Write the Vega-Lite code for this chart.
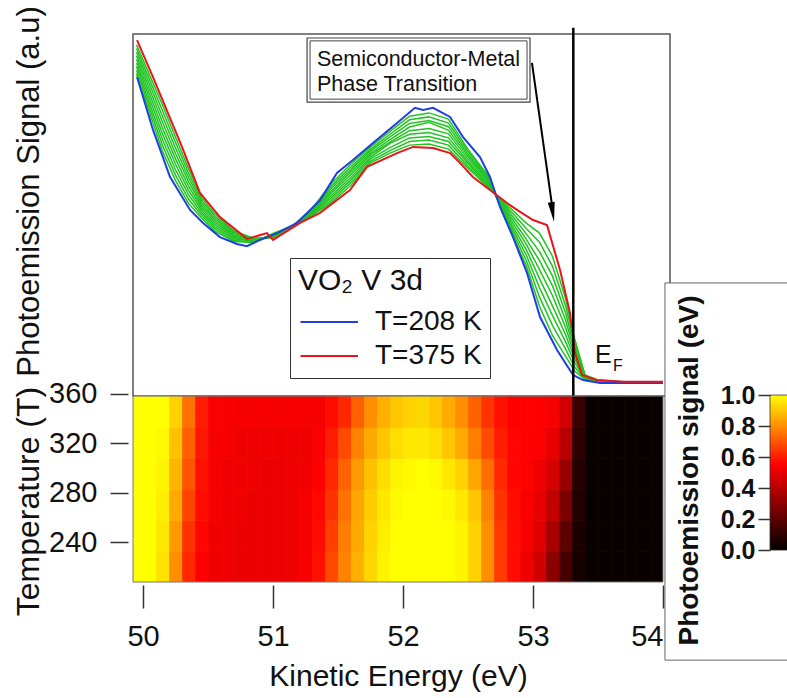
{
  "$schema": "https://vega.github.io/schema/vega-lite/v6.json",
  "width": 530,
  "height": 548,
  "autosize": "none",
  "padding": {"left": 133, "top": 34, "right": 124, "bottom": 116},
  "background": "white",
  "config": {
    "font": "Liberation Sans",
    "view": {"stroke": null},
    "axis": {"grid": false, "domain": false, "tickColor": "#333", "labelColor": "#111", "titleColor": "#111", "titleFontWeight": "normal"}
  },
  "datasets": {
    "green": [
      {"g":1,"E":49.95,"S":89},{"g":1,"E":50.05,"S":78.3},{"g":1,"E":50.15,"S":67.6},{"g":1,"E":50.25,"S":59.5},{"g":1,"E":50.35,"S":53.2},{"g":1,"E":50.45,"S":49.2},{"g":1,"E":50.55,"S":45.6},{"g":1,"E":50.7,"S":42.7},{"g":1,"E":50.85,"S":42.4},{"g":1,"E":51.0,"S":44.9},{"g":1,"E":51.15,"S":47.0},{"g":1,"E":51.3,"S":51.8},{"g":1,"E":51.45,"S":58.7},{"g":1,"E":51.6,"S":64.1},{"g":1,"E":51.75,"S":68.8},{"g":1,"E":51.9,"S":73.1},{"g":1,"E":52.05,"S":77.3},{"g":1,"E":52.2,"S":78.2},{"g":1,"E":52.35,"S":76.5},{"g":1,"E":52.5,"S":68.1},{"g":1,"E":52.65,"S":61.1},{"g":1,"E":52.75,"S":52.1},{"g":1,"E":52.85,"S":43.8},{"g":1,"E":52.95,"S":35.8},{"g":1,"E":53.05,"S":24.8},{"g":1,"E":53.15,"S":16.7},{"g":1,"E":53.25,"S":11},{"g":1,"E":53.32,"S":6.9},{"g":1,"E":53.4,"S":4.5},{"g":1,"E":53.5,"S":3.8},{"g":1,"E":53.7,"S":3.6},{"g":1,"E":54.0,"S":3.6},
      {"g":2,"E":49.95,"S":90},{"g":2,"E":50.05,"S":79.6},{"g":2,"E":50.15,"S":69.2},{"g":2,"E":50.25,"S":61},{"g":2,"E":50.35,"S":54.4},{"g":2,"E":50.45,"S":49.9},{"g":2,"E":50.55,"S":46.2},{"g":2,"E":50.7,"S":43.0},{"g":2,"E":50.85,"S":42.5},{"g":2,"E":51.0,"S":44.7},{"g":2,"E":51.15,"S":46.9},{"g":2,"E":51.3,"S":51.5},{"g":2,"E":51.45,"S":58.0},{"g":2,"E":51.6,"S":63.3},{"g":2,"E":51.75,"S":68.2},{"g":2,"E":51.9,"S":72.3},{"g":2,"E":52.05,"S":76.3},{"g":2,"E":52.2,"S":77.1},{"g":2,"E":52.35,"S":75.4},{"g":2,"E":52.5,"S":67.5},{"g":2,"E":52.65,"S":60.7},{"g":2,"E":52.75,"S":52.4},{"g":2,"E":52.85,"S":44.7},{"g":2,"E":52.95,"S":37.3},{"g":2,"E":53.05,"S":27.3},{"g":2,"E":53.15,"S":19.5},{"g":2,"E":53.25,"S":13},{"g":2,"E":53.32,"S":8.0},{"g":2,"E":53.4,"S":4.6},{"g":2,"E":53.5,"S":3.9},{"g":2,"E":53.7,"S":3.7},{"g":2,"E":54.0,"S":3.7},
      {"g":3,"E":49.95,"S":91},{"g":3,"E":50.05,"S":80.9},{"g":3,"E":50.15,"S":70.8},{"g":3,"E":50.25,"S":62.5},{"g":3,"E":50.35,"S":55.6},{"g":3,"E":50.45,"S":50.6},{"g":3,"E":50.55,"S":46.8},{"g":3,"E":50.7,"S":43.4},{"g":3,"E":50.85,"S":42.7},{"g":3,"E":51.0,"S":44.6},{"g":3,"E":51.15,"S":46.9},{"g":3,"E":51.3,"S":51.3},{"g":3,"E":51.45,"S":57.4},{"g":3,"E":51.6,"S":62.6},{"g":3,"E":51.75,"S":67.7},{"g":3,"E":51.9,"S":71.6},{"g":3,"E":52.05,"S":75.3},{"g":3,"E":52.2,"S":76.1},{"g":3,"E":52.35,"S":74.4},{"g":3,"E":52.5,"S":66.8},{"g":3,"E":52.65,"S":60.3},{"g":3,"E":52.75,"S":52.6},{"g":3,"E":52.85,"S":45.6},{"g":3,"E":52.95,"S":38.8},{"g":3,"E":53.05,"S":29.9},{"g":3,"E":53.15,"S":22.2},{"g":3,"E":53.25,"S":15},{"g":3,"E":53.32,"S":9.2},{"g":3,"E":53.4,"S":4.8},{"g":3,"E":53.5,"S":3.9},{"g":3,"E":53.7,"S":3.7},{"g":3,"E":54.0,"S":3.7},
      {"g":4,"E":49.95,"S":92},{"g":4,"E":50.05,"S":82.2},{"g":4,"E":50.15,"S":72.4},{"g":4,"E":50.25,"S":64},{"g":4,"E":50.35,"S":56.8},{"g":4,"E":50.45,"S":51.3},{"g":4,"E":50.55,"S":47.4},{"g":4,"E":50.7,"S":43.8},{"g":4,"E":50.85,"S":42.8},{"g":4,"E":51.0,"S":44.4},{"g":4,"E":51.15,"S":46.8},{"g":4,"E":51.3,"S":51.0},{"g":4,"E":51.45,"S":56.7},{"g":4,"E":51.6,"S":61.9},{"g":4,"E":51.75,"S":67.1},{"g":4,"E":51.9,"S":70.8},{"g":4,"E":52.05,"S":74.3},{"g":4,"E":52.2,"S":75.6},{"g":4,"E":52.35,"S":73.4},{"g":4,"E":52.5,"S":66.2},{"g":4,"E":52.65,"S":59.9},{"g":4,"E":52.75,"S":52.9},{"g":4,"E":52.85,"S":46.5},{"g":4,"E":52.95,"S":40.3},{"g":4,"E":53.05,"S":32.4},{"g":4,"E":53.15,"S":24.9},{"g":4,"E":53.25,"S":17},{"g":4,"E":53.32,"S":10.3},{"g":4,"E":53.4,"S":5.0},{"g":4,"E":53.5,"S":4.0},{"g":4,"E":53.7,"S":3.7},{"g":4,"E":54.0,"S":3.7},
      {"g":5,"E":49.95,"S":93},{"g":5,"E":50.05,"S":83.5},{"g":5,"E":50.15,"S":74},{"g":5,"E":50.25,"S":65.5},{"g":5,"E":50.35,"S":58},{"g":5,"E":50.45,"S":52},{"g":5,"E":50.55,"S":48},{"g":5,"E":50.7,"S":44.2},{"g":5,"E":50.85,"S":43.0},{"g":5,"E":51.0,"S":44.3},{"g":5,"E":51.15,"S":46.8},{"g":5,"E":51.3,"S":50.8},{"g":5,"E":51.45,"S":56.1},{"g":5,"E":51.6,"S":61.2},{"g":5,"E":51.75,"S":66.6},{"g":5,"E":51.9,"S":70.1},{"g":5,"E":52.05,"S":73.3},{"g":5,"E":52.2,"S":73.9},{"g":5,"E":52.35,"S":72.4},{"g":5,"E":52.5,"S":65.5},{"g":5,"E":52.65,"S":59.5},{"g":5,"E":52.75,"S":53.2},{"g":5,"E":52.85,"S":47.5},{"g":5,"E":52.95,"S":41.8},{"g":5,"E":53.05,"S":34.9},{"g":5,"E":53.15,"S":27.7},{"g":5,"E":53.25,"S":19},{"g":5,"E":53.32,"S":11.4},{"g":5,"E":53.4,"S":5.2},{"g":5,"E":53.5,"S":4.1},{"g":5,"E":53.7,"S":3.8},{"g":5,"E":54.0,"S":3.8},
      {"g":6,"E":49.95,"S":94},{"g":6,"E":50.05,"S":84.8},{"g":6,"E":50.15,"S":75.6},{"g":6,"E":50.25,"S":67},{"g":6,"E":50.35,"S":59.2},{"g":6,"E":50.45,"S":52.7},{"g":6,"E":50.55,"S":48.6},{"g":6,"E":50.7,"S":44.5},{"g":6,"E":50.85,"S":43.2},{"g":6,"E":51.0,"S":44.1},{"g":6,"E":51.15,"S":46.7},{"g":6,"E":51.3,"S":50.5},{"g":6,"E":51.45,"S":55.4},{"g":6,"E":51.6,"S":60.4},{"g":6,"E":51.75,"S":66.0},{"g":6,"E":51.9,"S":69.8},{"g":6,"E":52.05,"S":72.3},{"g":6,"E":52.2,"S":72.8},{"g":6,"E":52.35,"S":71.3},{"g":6,"E":52.5,"S":64.8},{"g":6,"E":52.65,"S":59.0},{"g":6,"E":52.75,"S":53.5},{"g":6,"E":52.85,"S":48.4},{"g":6,"E":52.95,"S":43.2},{"g":6,"E":53.05,"S":37.4},{"g":6,"E":53.15,"S":30.4},{"g":6,"E":53.25,"S":21},{"g":6,"E":53.32,"S":12.5},{"g":6,"E":53.4,"S":5.3},{"g":6,"E":53.5,"S":4.2},{"g":6,"E":53.7,"S":3.8},{"g":6,"E":54.0,"S":3.8},
      {"g":7,"E":49.95,"S":95},{"g":7,"E":50.05,"S":86.1},{"g":7,"E":50.15,"S":77.2},{"g":7,"E":50.25,"S":68.5},{"g":7,"E":50.35,"S":60.4},{"g":7,"E":50.45,"S":53.4},{"g":7,"E":50.55,"S":49.2},{"g":7,"E":50.7,"S":44.9},{"g":7,"E":50.85,"S":43.3},{"g":7,"E":51.0,"S":44.0},{"g":7,"E":51.15,"S":46.7},{"g":7,"E":51.3,"S":50.3},{"g":7,"E":51.45,"S":54.8},{"g":7,"E":51.6,"S":59.7},{"g":7,"E":51.75,"S":65.5},{"g":7,"E":51.9,"S":68.6},{"g":7,"E":52.05,"S":71.3},{"g":7,"E":52.2,"S":71.7},{"g":7,"E":52.35,"S":70.3},{"g":7,"E":52.5,"S":64.2},{"g":7,"E":52.65,"S":58.6},{"g":7,"E":52.75,"S":53.8},{"g":7,"E":52.85,"S":49.3},{"g":7,"E":52.95,"S":44.7},{"g":7,"E":53.05,"S":39.9},{"g":7,"E":53.15,"S":33.1},{"g":7,"E":53.25,"S":23},{"g":7,"E":53.32,"S":13.6},{"g":7,"E":53.4,"S":5.5},{"g":7,"E":53.5,"S":4.3},{"g":7,"E":53.7,"S":3.8},{"g":7,"E":54.0,"S":3.8},
      {"g":8,"E":49.95,"S":96},{"g":8,"E":50.05,"S":87.4},{"g":8,"E":50.15,"S":78.8},{"g":8,"E":50.25,"S":70},{"g":8,"E":50.35,"S":61.6},{"g":8,"E":50.45,"S":54.1},{"g":8,"E":50.55,"S":49.8},{"g":8,"E":50.7,"S":45.3},{"g":8,"E":50.85,"S":43.5},{"g":8,"E":51.0,"S":43.8},{"g":8,"E":51.15,"S":46.6},{"g":8,"E":51.3,"S":50.0},{"g":8,"E":51.45,"S":54.1},{"g":8,"E":51.6,"S":59.0},{"g":8,"E":51.75,"S":64.9},{"g":8,"E":51.9,"S":67.8},{"g":8,"E":52.05,"S":70.3},{"g":8,"E":52.2,"S":70.7},{"g":8,"E":52.35,"S":69.3},{"g":8,"E":52.5,"S":63.5},{"g":8,"E":52.65,"S":58.2},{"g":8,"E":52.75,"S":54.0},{"g":8,"E":52.85,"S":50.2},{"g":8,"E":52.95,"S":46.2},{"g":8,"E":53.05,"S":42.5},{"g":8,"E":53.15,"S":35.8},{"g":8,"E":53.25,"S":25},{"g":8,"E":53.32,"S":14.8},{"g":8,"E":53.4,"S":5.7},{"g":8,"E":53.5,"S":4.3},{"g":8,"E":53.7,"S":3.8},{"g":8,"E":54.0,"S":3.8},
      {"g":9,"E":49.95,"S":97},{"g":9,"E":50.05,"S":88.7},{"g":9,"E":50.15,"S":80.4},{"g":9,"E":50.25,"S":71.5},{"g":9,"E":50.35,"S":62.8},{"g":9,"E":50.45,"S":54.8},{"g":9,"E":50.55,"S":50.4},{"g":9,"E":50.7,"S":45.6},{"g":9,"E":50.85,"S":43.6},{"g":9,"E":51.0,"S":43.7},{"g":9,"E":51.15,"S":46.6},{"g":9,"E":51.3,"S":49.8},{"g":9,"E":51.45,"S":53.5},{"g":9,"E":51.6,"S":58.2},{"g":9,"E":51.75,"S":64.4},{"g":9,"E":51.9,"S":67.1},{"g":9,"E":52.05,"S":69.3},{"g":9,"E":52.2,"S":69.6},{"g":9,"E":52.35,"S":68.2},{"g":9,"E":52.5,"S":62.9},{"g":9,"E":52.65,"S":57.8},{"g":9,"E":52.75,"S":54.3},{"g":9,"E":52.85,"S":51.1},{"g":9,"E":52.95,"S":47.7},{"g":9,"E":53.05,"S":45.0},{"g":9,"E":53.15,"S":38.6},{"g":9,"E":53.25,"S":27},{"g":9,"E":53.32,"S":15.9},{"g":9,"E":53.4,"S":5.8},{"g":9,"E":53.5,"S":4.4},{"g":9,"E":53.7,"S":3.9},{"g":9,"E":54.0,"S":3.9}
    ],
    "br": [
      {"T":"T=208 K","E":49.954,"S":88.1},{"T":"T=208 K","E":50.077,"S":73.5},{"T":"T=208 K","E":50.208,"S":60.5},{"T":"T=208 K","E":50.362,"S":51.4},{"T":"T=208 K","E":50.462,"S":47.8},{"T":"T=208 K","E":50.592,"S":43.9},{"T":"T=208 K","E":50.723,"S":42.0},{"T":"T=208 K","E":50.8,"S":41.4},{"T":"T=208 K","E":50.9,"S":43.1},{"T":"T=208 K","E":51.031,"S":45.0},{"T":"T=208 K","E":51.185,"S":47.8},{"T":"T=208 K","E":51.362,"S":54.1},{"T":"T=208 K","E":51.492,"S":61.6},{"T":"T=208 K","E":51.615,"S":65.2},{"T":"T=208 K","E":51.769,"S":69.9},{"T":"T=208 K","E":51.954,"S":75.4},{"T":"T=208 K","E":52.092,"S":79.6},{"T":"T=208 K","E":52.154,"S":79.0},{"T":"T=208 K","E":52.231,"S":79.6},{"T":"T=208 K","E":52.362,"S":77.1},{"T":"T=208 K","E":52.462,"S":71.5},{"T":"T=208 K","E":52.592,"S":66.0},{"T":"T=208 K","E":52.669,"S":60.5},{"T":"T=208 K","E":52.746,"S":52.2},{"T":"T=208 K","E":52.846,"S":43.9},{"T":"T=208 K","E":52.954,"S":34.0},{"T":"T=208 K","E":53.054,"S":21.8},{"T":"T=208 K","E":53.185,"S":12.7},{"T":"T=208 K","E":53.308,"S":5.8},{"T":"T=208 K","E":53.385,"S":4.4},{"T":"T=208 K","E":53.515,"S":3.6},{"T":"T=208 K","E":53.746,"S":3.6},{"T":"T=208 K","E":54.0,"S":3.6},
      {"T":"T=375 K","E":49.954,"S":98.3},{"T":"T=375 K","E":50.077,"S":88.1},{"T":"T=375 K","E":50.3,"S":68.8},{"T":"T=375 K","E":50.438,"S":56.1},{"T":"T=375 K","E":50.592,"S":49.4},{"T":"T=375 K","E":50.8,"S":43.4},{"T":"T=375 K","E":50.954,"S":45.0},{"T":"T=375 K","E":51.0,"S":43.1},{"T":"T=375 K","E":51.208,"S":47.8},{"T":"T=375 K","E":51.362,"S":50.6},{"T":"T=375 K","E":51.592,"S":56.9},{"T":"T=375 K","E":51.723,"S":63.3},{"T":"T=375 K","E":51.954,"S":67.1},{"T":"T=375 K","E":52.077,"S":68.8},{"T":"T=375 K","E":52.231,"S":68.5},{"T":"T=375 K","E":52.362,"S":67.1},{"T":"T=375 K","E":52.438,"S":64.4},{"T":"T=375 K","E":52.538,"S":60.5},{"T":"T=375 K","E":52.669,"S":56.9},{"T":"T=375 K","E":52.8,"S":53.3},{"T":"T=375 K","E":52.877,"S":51.4},{"T":"T=375 K","E":53.0,"S":48.6},{"T":"T=375 K","E":53.108,"S":47.2},{"T":"T=375 K","E":53.208,"S":34.8},{"T":"T=375 K","E":53.285,"S":22.9},{"T":"T=375 K","E":53.323,"S":11.9},{"T":"T=375 K","E":53.377,"S":5.8},{"T":"T=375 K","E":53.49,"S":4.4},{"T":"T=375 K","E":53.7,"S":3.9},{"T":"T=375 K","E":54.0,"S":3.9}
    ],
    "heat": [
      {"E":49.9,"T":208,"v":1},{"E":50.0,"T":208,"v":1},{"E":50.1,"T":208,"v":0.95},{"E":50.2,"T":208,"v":0.8},{"E":50.3,"T":208,"v":0.62},{"E":50.4,"T":208,"v":0.55},{"E":50.5,"T":208,"v":0.52},{"E":50.6,"T":208,"v":0.52},{"E":50.7,"T":208,"v":0.51},{"E":50.8,"T":208,"v":0.51},{"E":50.9,"T":208,"v":0.51},{"E":51.0,"T":208,"v":0.51},{"E":51.1,"T":208,"v":0.52},{"E":51.2,"T":208,"v":0.53},{"E":51.3,"T":208,"v":0.58},{"E":51.4,"T":208,"v":0.68},{"E":51.5,"T":208,"v":0.78},{"E":51.6,"T":208,"v":0.86},{"E":51.7,"T":208,"v":0.93},{"E":51.8,"T":208,"v":0.98},{"E":51.9,"T":208,"v":1},{"E":52.0,"T":208,"v":1},{"E":52.1,"T":208,"v":1},{"E":52.2,"T":208,"v":1},{"E":52.3,"T":208,"v":1},{"E":52.4,"T":208,"v":0.98},{"E":52.5,"T":208,"v":0.92},{"E":52.6,"T":208,"v":0.8},{"E":52.7,"T":208,"v":0.65},{"E":52.8,"T":208,"v":0.57},{"E":52.9,"T":208,"v":0.52},{"E":53.0,"T":208,"v":0.45},{"E":53.1,"T":208,"v":0.3},{"E":53.2,"T":208,"v":0.15},{"E":53.3,"T":208,"v":0.05},{"E":53.4,"T":208,"v":0.02},{"E":53.5,"T":208,"v":0.02},{"E":53.6,"T":208,"v":0.02},{"E":53.7,"T":208,"v":0.02},{"E":53.8,"T":208,"v":0.02},{"E":53.9,"T":208,"v":0.02},
      {"E":49.9,"T":233,"v":1},{"E":50.0,"T":233,"v":1},{"E":50.1,"T":233,"v":0.96},{"E":50.2,"T":233,"v":0.82},{"E":50.3,"T":233,"v":0.64},{"E":50.4,"T":233,"v":0.56},{"E":50.5,"T":233,"v":0.52},{"E":50.6,"T":233,"v":0.52},{"E":50.7,"T":233,"v":0.51},{"E":50.8,"T":233,"v":0.51},{"E":50.9,"T":233,"v":0.51},{"E":51.0,"T":233,"v":0.51},{"E":51.1,"T":233,"v":0.52},{"E":51.2,"T":233,"v":0.53},{"E":51.3,"T":233,"v":0.57},{"E":51.4,"T":233,"v":0.66},{"E":51.5,"T":233,"v":0.77},{"E":51.6,"T":233,"v":0.85},{"E":51.7,"T":233,"v":0.92},{"E":51.8,"T":233,"v":0.97},{"E":51.9,"T":233,"v":1},{"E":52.0,"T":233,"v":1},{"E":52.1,"T":233,"v":1},{"E":52.2,"T":233,"v":1},{"E":52.3,"T":233,"v":1},{"E":52.4,"T":233,"v":0.98},{"E":52.5,"T":233,"v":0.92},{"E":52.6,"T":233,"v":0.8},{"E":52.7,"T":233,"v":0.65},{"E":52.8,"T":233,"v":0.57},{"E":52.9,"T":233,"v":0.53},{"E":53.0,"T":233,"v":0.48},{"E":53.1,"T":233,"v":0.36},{"E":53.2,"T":233,"v":0.2},{"E":53.3,"T":233,"v":0.06},{"E":53.4,"T":233,"v":0.02},{"E":53.5,"T":233,"v":0.02},{"E":53.6,"T":233,"v":0.02},{"E":53.7,"T":233,"v":0.02},{"E":53.8,"T":233,"v":0.02},{"E":53.9,"T":233,"v":0.02},
      {"E":49.9,"T":258,"v":1},{"E":50.0,"T":258,"v":1},{"E":50.1,"T":258,"v":0.97},{"E":50.2,"T":258,"v":0.85},{"E":50.3,"T":258,"v":0.67},{"E":50.4,"T":258,"v":0.57},{"E":50.5,"T":258,"v":0.53},{"E":50.6,"T":258,"v":0.52},{"E":50.7,"T":258,"v":0.52},{"E":50.8,"T":258,"v":0.51},{"E":50.9,"T":258,"v":0.51},{"E":51.0,"T":258,"v":0.51},{"E":51.1,"T":258,"v":0.52},{"E":51.2,"T":258,"v":0.53},{"E":51.3,"T":258,"v":0.56},{"E":51.4,"T":258,"v":0.64},{"E":51.5,"T":258,"v":0.75},{"E":51.6,"T":258,"v":0.84},{"E":51.7,"T":258,"v":0.91},{"E":51.8,"T":258,"v":0.96},{"E":51.9,"T":258,"v":0.99},{"E":52.0,"T":258,"v":1},{"E":52.1,"T":258,"v":1},{"E":52.2,"T":258,"v":1},{"E":52.3,"T":258,"v":0.99},{"E":52.4,"T":258,"v":0.96},{"E":52.5,"T":258,"v":0.9},{"E":52.6,"T":258,"v":0.78},{"E":52.7,"T":258,"v":0.64},{"E":52.8,"T":258,"v":0.57},{"E":52.9,"T":258,"v":0.54},{"E":53.0,"T":258,"v":0.5},{"E":53.1,"T":258,"v":0.42},{"E":53.2,"T":258,"v":0.27},{"E":53.3,"T":258,"v":0.07},{"E":53.4,"T":258,"v":0.02},{"E":53.5,"T":258,"v":0.02},{"E":53.6,"T":258,"v":0.02},{"E":53.7,"T":258,"v":0.02},{"E":53.8,"T":258,"v":0.02},{"E":53.9,"T":258,"v":0.02},
      {"E":49.9,"T":283,"v":1},{"E":50.0,"T":283,"v":1},{"E":50.1,"T":283,"v":0.98},{"E":50.2,"T":283,"v":0.87},{"E":50.3,"T":283,"v":0.7},{"E":50.4,"T":283,"v":0.58},{"E":50.5,"T":283,"v":0.53},{"E":50.6,"T":283,"v":0.52},{"E":50.7,"T":283,"v":0.52},{"E":50.8,"T":283,"v":0.52},{"E":50.9,"T":283,"v":0.51},{"E":51.0,"T":283,"v":0.51},{"E":51.1,"T":283,"v":0.52},{"E":51.2,"T":283,"v":0.52},{"E":51.3,"T":283,"v":0.55},{"E":51.4,"T":283,"v":0.62},{"E":51.5,"T":283,"v":0.72},{"E":51.6,"T":283,"v":0.82},{"E":51.7,"T":283,"v":0.89},{"E":51.8,"T":283,"v":0.94},{"E":51.9,"T":283,"v":0.98},{"E":52.0,"T":283,"v":0.99},{"E":52.1,"T":283,"v":1},{"E":52.2,"T":283,"v":0.99},{"E":52.3,"T":283,"v":0.96},{"E":52.4,"T":283,"v":0.92},{"E":52.5,"T":283,"v":0.84},{"E":52.6,"T":283,"v":0.74},{"E":52.7,"T":283,"v":0.62},{"E":52.8,"T":283,"v":0.56},{"E":52.9,"T":283,"v":0.55},{"E":53.0,"T":283,"v":0.52},{"E":53.1,"T":283,"v":0.46},{"E":53.2,"T":283,"v":0.33},{"E":53.3,"T":283,"v":0.08},{"E":53.4,"T":283,"v":0.02},{"E":53.5,"T":283,"v":0.02},{"E":53.6,"T":283,"v":0.02},{"E":53.7,"T":283,"v":0.02},{"E":53.8,"T":283,"v":0.02},{"E":53.9,"T":283,"v":0.02},
      {"E":49.9,"T":308,"v":1},{"E":50.0,"T":308,"v":1},{"E":50.1,"T":308,"v":0.99},{"E":50.2,"T":308,"v":0.89},{"E":50.3,"T":308,"v":0.72},{"E":50.4,"T":308,"v":0.59},{"E":50.5,"T":308,"v":0.53},{"E":50.6,"T":308,"v":0.53},{"E":50.7,"T":308,"v":0.52},{"E":50.8,"T":308,"v":0.52},{"E":50.9,"T":308,"v":0.52},{"E":51.0,"T":308,"v":0.52},{"E":51.1,"T":308,"v":0.52},{"E":51.2,"T":308,"v":0.52},{"E":51.3,"T":308,"v":0.54},{"E":51.4,"T":308,"v":0.6},{"E":51.5,"T":308,"v":0.68},{"E":51.6,"T":308,"v":0.78},{"E":51.7,"T":308,"v":0.85},{"E":51.8,"T":308,"v":0.9},{"E":51.9,"T":308,"v":0.94},{"E":52.0,"T":308,"v":0.96},{"E":52.1,"T":308,"v":0.96},{"E":52.2,"T":308,"v":0.94},{"E":52.3,"T":308,"v":0.9},{"E":52.4,"T":308,"v":0.85},{"E":52.5,"T":308,"v":0.77},{"E":52.6,"T":308,"v":0.68},{"E":52.7,"T":308,"v":0.6},{"E":52.8,"T":308,"v":0.56},{"E":52.9,"T":308,"v":0.55},{"E":53.0,"T":308,"v":0.54},{"E":53.1,"T":308,"v":0.5},{"E":53.2,"T":308,"v":0.4},{"E":53.3,"T":308,"v":0.1},{"E":53.4,"T":308,"v":0.02},{"E":53.5,"T":308,"v":0.02},{"E":53.6,"T":308,"v":0.02},{"E":53.7,"T":308,"v":0.02},{"E":53.8,"T":308,"v":0.02},{"E":53.9,"T":308,"v":0.02},
      {"E":49.9,"T":333,"v":1},{"E":50.0,"T":333,"v":1},{"E":50.1,"T":333,"v":1},{"E":50.2,"T":333,"v":0.92},{"E":50.3,"T":333,"v":0.75},{"E":50.4,"T":333,"v":0.6},{"E":50.5,"T":333,"v":0.54},{"E":50.6,"T":333,"v":0.53},{"E":50.7,"T":333,"v":0.53},{"E":50.8,"T":333,"v":0.53},{"E":50.9,"T":333,"v":0.53},{"E":51.0,"T":333,"v":0.53},{"E":51.1,"T":333,"v":0.53},{"E":51.2,"T":333,"v":0.53},{"E":51.3,"T":333,"v":0.53},{"E":51.4,"T":333,"v":0.57},{"E":51.5,"T":333,"v":0.62},{"E":51.6,"T":333,"v":0.72},{"E":51.7,"T":333,"v":0.8},{"E":51.8,"T":333,"v":0.86},{"E":51.9,"T":333,"v":0.9},{"E":52.0,"T":333,"v":0.92},{"E":52.1,"T":333,"v":0.93},{"E":52.2,"T":333,"v":0.9},{"E":52.3,"T":333,"v":0.85},{"E":52.4,"T":333,"v":0.8},{"E":52.5,"T":333,"v":0.72},{"E":52.6,"T":333,"v":0.64},{"E":52.7,"T":333,"v":0.58},{"E":52.8,"T":333,"v":0.55},{"E":52.9,"T":333,"v":0.55},{"E":53.0,"T":333,"v":0.55},{"E":53.1,"T":333,"v":0.53},{"E":53.2,"T":333,"v":0.45},{"E":53.3,"T":333,"v":0.12},{"E":53.4,"T":333,"v":0.02},{"E":53.5,"T":333,"v":0.02},{"E":53.6,"T":333,"v":0.02},{"E":53.7,"T":333,"v":0.02},{"E":53.8,"T":333,"v":0.02},{"E":53.9,"T":333,"v":0.02}
    ]
  },
  "layer": [
    {
      "layer": [
        {
          "data": {"values": [{}]},
          "mark": {"type": "rect", "fillOpacity": 0, "stroke": "#555", "strokeWidth": 1.5},
          "encoding": {
            "x": {"datum": 49.923, "type": "quantitative"},
            "x2": {"datum": 54.054},
            "y": {"datum": 0, "type": "quantitative"},
            "y2": {"datum": 100}
          }
        },
        {
          "data": {"values": [{}]},
          "mark": {"type": "rect", "fill": "white", "stroke": "#444", "strokeWidth": 1.2},
          "encoding": {
            "x": {"datum": 51.262, "type": "quantitative"},
            "x2": {"datum": 52.977},
            "y": {"datum": 98.9, "type": "quantitative"},
            "y2": {"datum": 81.2}
          }
        },
        {
          "data": {"values": [{}]},
          "mark": {"type": "rect", "fillOpacity": 0, "stroke": "#444", "strokeWidth": 1},
          "encoding": {
            "x": {"datum": 51.285, "type": "quantitative"},
            "x2": {"datum": 52.954},
            "y": {"datum": 98.1, "type": "quantitative"},
            "y2": {"datum": 82.0}
          }
        },
        {
          "data": {"values": [{}]},
          "mark": {"type": "text", "text": ["Semiconductor-Metal", "Phase Transition"], "fontSize": 21.5, "align": "left", "baseline": "alphabetic", "lineHeight": 25, "color": "#111"},
          "encoding": {
            "x": {"datum": 51.338, "type": "quantitative"},
            "y": {"datum": 91.2, "type": "quantitative"}
          }
        },
        {
          "data": {"name": "green"},
          "mark": {"type": "line", "color": "#22c322", "strokeWidth": 1.5},
          "encoding": {
            "x": {"field": "E", "type": "quantitative", "title": "Kinetic Energy (eV)", "scale": {"domain": [49.923, 54.0], "nice": false, "zero": false}},
            "y": {"field": "S", "type": "quantitative", "title": "Photoemission Signal (a.u)", "scale": {"domain": [-51.4, 100], "nice": false, "zero": false},
                  "axis": {"orient": "left", "labels": false, "ticks": false, "domain": false, "titleFontSize": 31, "titleX": -95, "titleY": 157, "titleAlign": "center", "titleBaseline": "alphabetic", "titleAngle": -90}},
            "detail": {"field": "g", "type": "nominal"}
          }
        },
        {
          "data": {"name": "br"},
          "mark": {"type": "line", "strokeWidth": 2},
          "encoding": {
            "x": {"field": "E", "type": "quantitative", "title": "Kinetic Energy (eV)", "scale": {"domain": [49.923, 54.0], "nice": false, "zero": false}},
            "y": {"field": "S", "type": "quantitative", "title": "Photoemission Signal (a.u)", "scale": {"domain": [-51.4, 100], "nice": false, "zero": false}},
            "stroke": {"field": "T", "type": "nominal", "scale": {"domain": ["T=208 K", "T=375 K"], "range": ["#1f3fe0", "#e8161b"]},
                       "legend": {"title": "VO₂ V 3d", "orient": "none", "legendX": 157, "legendY": 224, "fillColor": "white", "strokeColor": "#333", "padding": 8, "titleFontSize": 30, "titleFontWeight": "normal", "titleColor": "#111", "labelFontSize": 28, "labelColor": "#111", "symbolType": "M-1,0L4,0", "symbolSize": 529, "symbolStrokeWidth": 2, "labelOffset": 49, "rowPadding": 6, "titlePadding": 12}}
          }
        },
        {
          "data": {"values": [{}]},
          "mark": {"type": "rule", "color": "black", "strokeWidth": 2.5},
          "encoding": {
            "x": {"datum": 53.31, "type": "quantitative"},
            "y": {"datum": 0, "type": "quantitative"},
            "y2": {"datum": 101.7}
          }
        },
        {
          "data": {"values": [{}]},
          "mark": {"type": "rule", "color": "black", "strokeWidth": 2},
          "encoding": {
            "x": {"datum": 52.992, "type": "quantitative"},
            "y": {"datum": 92.0, "type": "quantitative"},
            "x2": {"datum": 53.146},
            "y2": {"datum": 52.8}
          }
        },
        {
          "data": {"values": [{}]},
          "mark": {"type": "point", "shape": "M0,1L-0.35,-1L0.35,-1Z", "size": 400, "filled": true, "color": "black", "opacity": 1, "angle": 352},
          "encoding": {
            "x": {"datum": 53.151, "type": "quantitative"},
            "y": {"datum": 50.8, "type": "quantitative"}
          }
        },
        {
          "data": {"values": [{}]},
          "mark": {"type": "text", "text": "E", "fontSize": 25, "align": "left", "baseline": "alphabetic", "color": "#111"},
          "encoding": {
            "x": {"datum": 53.477, "type": "quantitative"},
            "y": {"datum": 9.1, "type": "quantitative"}
          }
        },
        {
          "data": {"values": [{}]},
          "mark": {"type": "text", "text": "F", "fontSize": 16, "align": "left", "baseline": "alphabetic", "color": "#111"},
          "encoding": {
            "x": {"datum": 53.615, "type": "quantitative"},
            "y": {"datum": 6.9, "type": "quantitative"}
          }
        }
      ]
    },
    {
      "layer": [
        {
          "data": {"name": "heat"},
          "mark": {"type": "rect", "clip": true, "strokeWidth": 0.7},
          "encoding": {
            "x": {"field": "E", "type": "quantitative", "bin": {"binned": true, "step": 0.1}, "title": "Kinetic Energy (eV)",
                  "scale": {"domain": [49.923, 54.0], "nice": false, "zero": false},
                  "axis": {"values": [50, 51, 52, 53, 54], "format": "d", "offset": 3, "tickSize": 23, "tickWidth": 1.5, "labelFontSize": 29, "labelPadding": 14, "titleFontSize": 30, "titleBaseline": "alphabetic", "titleY": 100}},
            "y": {"field": "T", "type": "quantitative", "bin": {"binned": true, "step": 25}, "title": "Temperature (T)",
                  "scale": {"domain": [208, 650], "nice": false, "zero": false},
                  "axis": {"orient": "left", "values": [240, 280, 320, 360], "format": "d", "offset": 5, "tickSize": 18, "tickWidth": 1.5, "labelFontSize": 29, "labelPadding": 13, "titleFontSize": 32, "titleX": -90, "titleY": 467, "titleAlign": "center", "titleBaseline": "alphabetic", "titleAngle": -90}},
            "fill": {"field": "v", "type": "quantitative", "scale": {"domain": [0, 0.55, 1], "range": ["#000000", "#ff0000", "#ffff00"], "interpolate": "rgb"}, "legend": null},
            "stroke": {"field": "v", "type": "quantitative", "scale": {"domain": [0, 0.55, 1], "range": ["#000000", "#ff0000", "#ffff00"], "interpolate": "rgb"}, "legend": null}
          }
        },
        {
          "data": {"values": [{}]},
          "mark": {"type": "rect", "fillOpacity": 0, "stroke": "#777", "strokeWidth": 1},
          "encoding": {
            "x": {"datum": 49.923, "type": "quantitative"},
            "x2": {"datum": 54.0},
            "y": {"datum": 208, "type": "quantitative"},
            "y2": {"datum": 358}
          }
        }
      ]
    },
    {
      "data": {"values": [{}]},
      "layer": [
        {
          "mark": {"type": "rect", "fill": "white", "stroke": "#666", "strokeWidth": 1},
          "encoding": {
            "x": {"datum": 54.015, "type": "quantitative"},
            "x2": {"datum": 55.3},
            "y": {"datum": 1.723, "type": "quantitative", "scale": {"domain": [-0.206, 3.329], "nice": false, "zero": false}},
            "y2": {"datum": -0.71}
          }
        },
        {
          "mark": {"type": "rect", "stroke": "#333", "strokeWidth": 0.8,
                   "color": {"gradient": "linear", "x1": 0, "y1": 0, "x2": 0, "y2": 1, "stops": [{"offset": 0, "color": "#ffff00"}, {"offset": 0.45, "color": "#ff0000"}, {"offset": 1, "color": "#000000"}]}},
          "encoding": {
            "x": {"datum": 54.823, "type": "quantitative"},
            "x2": {"datum": 55.3},
            "y": {"datum": 0, "type": "quantitative", "scale": {"domain": [-0.206, 3.329], "nice": false, "zero": false},
                  "axis": {"title": "Photoemission signal (eV)", "orient": "left", "offset": -637, "values": [0, 0.2, 0.4, 0.6, 0.8, 1], "format": ".1f", "domain": false, "tickSize": 12, "tickWidth": 1.5, "labelFontSize": 25, "labelFontWeight": "bold", "labelPadding": 3, "titleFontSize": 28, "titleFontWeight": "bold", "titleX": -73, "titleY": 436, "titleAlign": "center", "titleBaseline": "alphabetic", "titleAngle": -90, "zindex": 2}},
            "y2": {"datum": 1}
          }
        }
      ]
    }
  ],
  "resolve": {"scale": {"y": "independent", "stroke": "independent", "fill": "independent"}, "axis": {"y": "independent"}}
}
